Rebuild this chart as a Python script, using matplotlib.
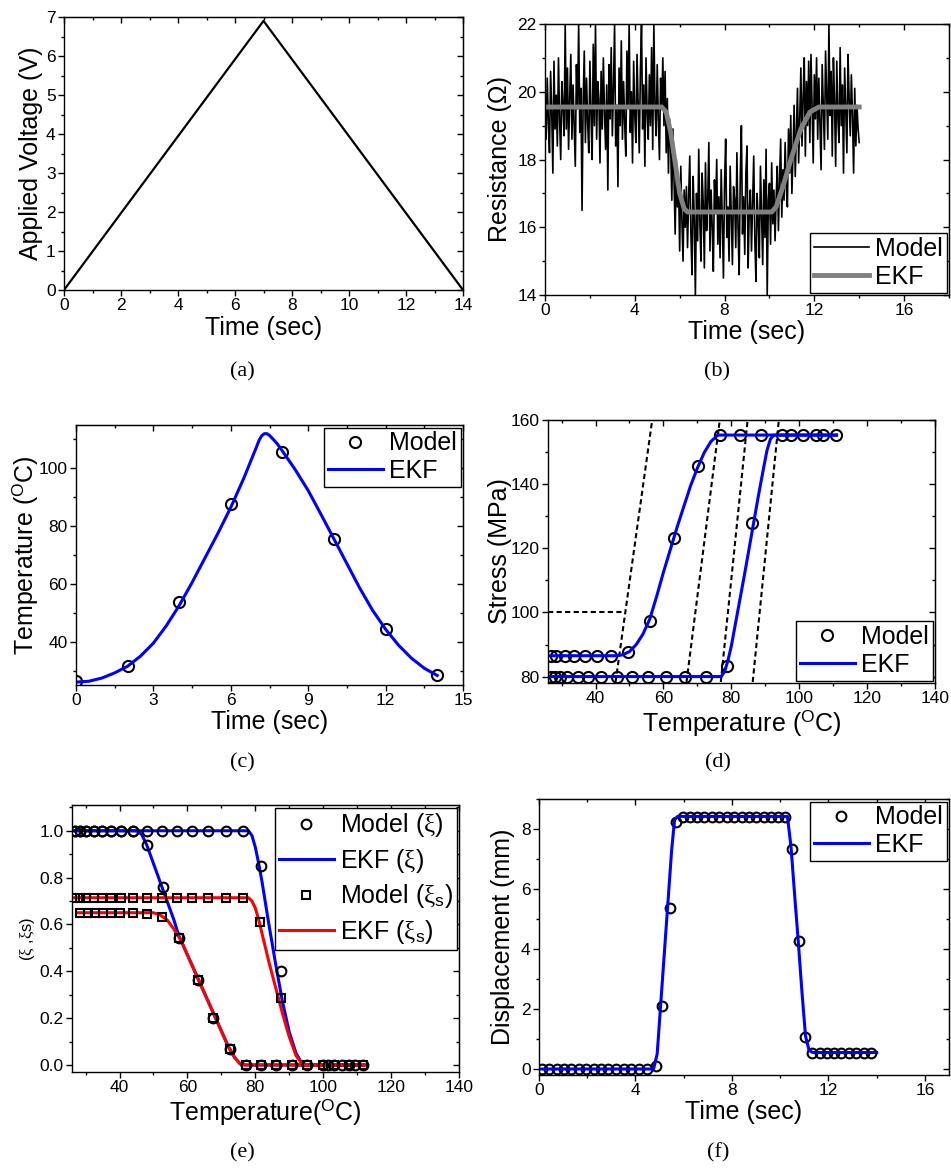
import numpy as np
import matplotlib
matplotlib.use('Agg')
import matplotlib.pyplot as plt
from matplotlib.ticker import MultipleLocator, FormatStrFormatter

plt.rcParams['font.family'] = ['Liberation Sans', 'DejaVu Sans']
plt.rcParams['mathtext.fontset'] = 'custom'
plt.rcParams['mathtext.rm'] = 'Liberation Serif'
plt.rcParams['mathtext.sf'] = 'Liberation Sans'
plt.rcParams['mathtext.it'] = 'Liberation Serif:italic'

# (a) applied voltage
volt_t = [0, 7, 14]
volt_v = [0, 6.9, 0]

# (b) resistance, noisy model + EKF estimate
res_model = [
    19.8, 18.6, 20.4, 19.1, 18.2, 20.6, 19.4, 17.6, 20.9, 18.9,
    19.9, 18.4, 21.0, 19.2, 18.0, 20.3, 19.6, 18.7, 22.0, 18.9,
    20.7, 18.3, 19.8, 21.1, 18.6, 20.2, 19.0, 17.8, 20.8, 19.5,
    22.0, 18.8, 20.1, 16.5, 19.7, 21.2, 18.5, 20.4, 19.1, 18.2,
    20.9, 19.3, 18.0, 21.4, 19.0, 22.0, 18.6, 20.3, 19.8, 17.9,
    20.6, 18.9, 21.0, 19.4, 18.3, 20.2, 17.1, 20.8, 19.2, 21.3,
    18.7, 20.1, 22.0, 18.4, 19.6, 17.2, 20.7, 19.0, 21.5, 18.6,
    20.3, 19.1, 18.1, 21.2, 19.5, 22.0, 18.8, 20.0, 17.9, 20.9,
    19.3, 18.5, 21.1, 19.7, 18.2, 20.6, 22.0, 18.9, 20.2, 17.8,
    21.0, 19.4, 18.6, 20.5, 19.0, 21.3, 18.3, 22.0, 19.6, 18.7,
    20.8, 19.2, 18.0, 20.4, 19.5, 21.0,
    19.0, 20.6, 18.2, 19.8, 17.6, 19.2, 18.4, 16.8, 18.9, 17.3,
    15.8, 18.0, 16.6, 17.4, 15.3, 17.8, 16.2, 15.0, 17.1, 16.0,
    17.2, 15.4, 16.9, 18.1, 15.8, 14.6, 17.5, 16.3, 14.0, 17.0,
    15.6, 18.3, 16.1, 15.0, 17.6, 16.7, 14.8, 17.9, 15.9, 16.8,
    18.5, 15.3, 17.1, 16.0, 14.7, 17.4, 16.4, 18.0, 15.5, 16.9,
    15.1, 17.7, 16.2, 14.5, 17.3, 18.6, 15.7, 16.6, 15.0, 17.8,
    16.3, 14.9, 17.2, 16.8, 15.4, 18.2, 16.0, 14.6, 17.5, 19.0,
    15.8, 16.9, 15.2, 17.6, 18.4, 14.8, 16.5, 17.1, 15.3, 16.7,
    18.1, 15.6, 14.4, 17.0, 16.2, 15.1, 17.8, 16.4, 14.9, 17.4,
    15.7, 18.3, 14.0, 16.8, 17.3, 15.5, 17.9, 16.1,
    17.1, 15.6, 16.9, 17.8, 15.9, 17.4, 18.6, 16.3, 17.7, 16.8,
    18.5, 17.2, 16.6, 18.9, 17.6, 19.3, 17.0, 18.2, 19.6, 17.5,
    18.8, 20.1, 17.9, 19.2, 20.7, 18.4, 19.8, 21.0, 18.1, 20.3,
    19.0, 20.9, 18.5, 21.1, 19.6, 17.9, 20.5, 19.2, 21.0, 18.6,
    20.4, 19.1, 17.7, 20.8, 19.5, 18.3, 21.2, 19.9, 18.6, 22.0,
    19.3, 20.6, 18.1, 21.0, 19.7, 17.8, 20.9, 19.2, 18.5, 21.3,
    19.0, 20.2, 17.6, 20.7, 19.4, 18.2, 21.1, 19.8, 18.7, 20.5,
    19.3, 17.6, 20.1, 18.4, 19.6, 18.9, 18.5,
]
res_t = np.linspace(0, 14, len(res_model))
res_ekf_t = [0, 5.2, 5.4, 5.6, 5.8, 6.0, 6.2, 6.35, 10.1, 10.3, 10.6, 11.0, 11.4, 11.8, 12.2, 14]
res_ekf_r = [19.55, 19.55, 19.4, 18.8, 17.9, 17.0, 16.55, 16.45, 16.45, 16.6, 17.2, 18.1, 18.9, 19.4, 19.55, 19.55]

# (c) temperature
temp_model_t = [0, 2, 4, 6, 8, 10, 12, 14]
temp_model_T = [26.3, 31.6, 53.8, 87.6, 105.5, 75.5, 44.3, 28.4]
temp_ekf_t = [0, 0.5, 1, 1.5, 2, 2.5, 3, 3.5, 4, 4.5, 5, 5.5, 6, 6.5, 7, 7.1, 7.2, 7.3, 7.4,
              7.5, 7.65, 7.8, 8, 8.5, 9, 9.5, 10, 10.5, 11, 11.5, 12, 12.5, 13, 13.5, 14]
temp_ekf_T = [26.0, 26.3, 27.4, 29.2, 31.5, 35.0, 39.5, 45.5, 52.5, 60.5, 69.0, 77.5, 86.5, 96.5,
              107.5, 109.8, 111.3, 112.0, 112.0, 111.4, 110.0, 108.5, 106.0, 99.5, 92.3, 84.0,
              75.5, 67.0, 58.5, 50.8, 44.3, 38.8, 34.3, 30.8, 28.3]

# (d) stress vs temperature
str_model1_T = [26.8, 28.5, 31.0, 33.7, 36.9, 40.3, 44.5, 49.6, 56.0, 63.1, 70.3, 76.6,
                82.5, 88.7, 94.8, 97.6, 101.2, 104.8, 107.1, 110.8]
str_model1_S = [86.5, 86.5, 86.5, 86.5, 86.5, 86.5, 86.5, 87.8, 97.3, 123.2, 145.7, 155.3,
                155.3, 155.3, 155.3, 155.3, 155.3, 155.3, 155.3, 155.3]
str_model2_T = [26.8, 28.0, 29.4, 31.7, 34.7, 37.8, 41.6, 46.2, 50.8, 55.5, 60.9, 66.5, 72.4, 78.6, 86.0]
str_model2_S = [80, 80, 80, 80, 80, 80, 80, 80, 80, 80, 80, 80, 80, 83.3, 128.0]
str_ekf1_T = [26, 46, 48, 50, 52, 54, 56, 58, 60, 62, 64, 66, 68, 70, 72, 74, 76, 111]
str_ekf1_S = [86.5, 86.5, 86.8, 87.8, 90.0, 93.3, 98.0, 105.0, 112.5, 119.5, 126.5, 133.0,
              139.5, 145.0, 149.8, 153.3, 155.3, 155.3]
str_ekf2_T = [26, 77, 78, 79, 80, 82, 84, 86, 88, 89.5, 90.5, 91.5, 92.5, 111]
str_ekf2_S = [80, 80, 81.5, 85.0, 89.5, 101.0, 112.5, 124.5, 136.5, 145.0, 150.5, 154.0, 155.3, 155.3]
# phase diagram boundaries (dashed)
bound_T0 = [45.9, 66.8, 76.9, 86.3]
bound_T1 = [56.7, 76.6, 84.8, 94.0]
bound_S = [78.3, 160]
crit_T = [26, 48.5]
crit_S = [100, 100]

# (e) martensite fractions
xi_model1_T = [27.0, 28.4, 30.2, 32.4, 34.8, 37.5, 40.4, 44.1, 48.0, 52.7, 57.5, 63.0, 67.6, 72.4,
               77.2, 81.6, 86.1, 90.8]
xi_model1_v = [1, 1, 1, 1, 1, 1, 1, 1, 0.94, 0.76, 0.543, 0.364, 0.2, 0.069, 0, 0, 0, 0]
xi_model2_T = [27.0, 28.4, 30.2, 32.4, 34.8, 37.5, 40.4, 44.1, 48.0, 52.5, 56.9, 61.3, 66.2, 71.3,
               76.5, 81.7, 87.7, 95.1, 99.8, 101.5, 103.1, 105.5, 107.6, 109.5, 111.8]
xi_model2_v = [1, 1, 1, 1, 1, 1, 1, 1, 1, 1, 1, 1, 1, 1, 1, 0.85, 0.40, 0, 0, 0, 0, 0, 0, 0, 0]
xis_model1_T = [28.4, 30.6, 32.9, 35.1, 37.5, 40.2, 43.9, 48.0, 52.6, 57.5, 63.0, 67.6, 72.4,
                77.2, 81.6, 86.1, 90.8]
xis_model1_v = [0.65, 0.65, 0.65, 0.65, 0.65, 0.65, 0.65, 0.643, 0.63, 0.543, 0.364, 0.2, 0.069,
                0, 0, 0, 0]
xis_model2_T = [27.0, 28.4, 30.2, 32.4, 34.8, 37.5, 40.4, 44.1, 48.0, 52.5, 56.9, 61.3, 66.2, 71.3,
                76.5, 81.4, 87.7, 95.1, 99.8, 103.1, 107.6, 111.8]
xis_model2_v = [0.714] * 15 + [0.61, 0.286, 0, 0, 0, 0, 0]
xi_ekf1_T = [26, 45, 46.5, 48, 50, 52, 54, 56, 57.5, 58, 60, 62, 64, 66, 68, 70, 72, 74, 75.5, 77, 112]
xi_ekf1_v = [1, 1, 0.985, 0.94, 0.86, 0.78, 0.70, 0.62, 0.55, 0.535, 0.47, 0.405, 0.34, 0.275,
             0.21, 0.145, 0.08, 0.03, 0.005, 0, 0]
xi_ekf2_T = [26, 78, 79, 80, 81, 82, 84, 86, 88, 90, 92, 94, 112]
xi_ekf2_v = [1, 1, 0.98, 0.93, 0.86, 0.78, 0.60, 0.43, 0.27, 0.14, 0.05, 0, 0]
xis_ekf1_T = [27.6, 50, 52, 54, 56, 58, 60, 62, 64, 66, 68, 70, 72, 74, 75.5, 77, 112]
xis_ekf1_v = [0.65, 0.65, 0.64, 0.62, 0.58, 0.535, 0.47, 0.405, 0.34, 0.275, 0.21, 0.145, 0.08,
              0.03, 0.005, 0, 0]
xis_ekf2_T = [26, 78, 79, 80, 81, 82, 84, 86, 88, 90, 92, 94, 112]
xis_ekf2_v = [0.714, 0.714, 0.70, 0.67, 0.62, 0.56, 0.44, 0.33, 0.22, 0.12, 0.04, 0, 0]

# (f) displacement
disp_model_t = [0.11, 0.41, 0.73, 1.04, 1.34, 1.64, 1.96, 2.27, 2.58, 2.88, 3.19, 3.51, 3.81,
                4.15, 4.49, 4.84, 5.08, 5.42, 5.66, 5.97, 6.25, 6.55, 6.85, 7.16, 7.47, 7.78,
                8.08, 8.40, 8.71, 9.01, 9.32, 9.63, 9.90, 10.22, 10.48, 10.79, 11.04, 11.34,
                11.64, 11.93, 12.23, 12.53, 12.85, 13.15, 13.47, 13.77]
disp_model_d = [0] * 15 + [0.11, 2.1, 5.36, 8.24] + [8.41] * 15 + [7.34, 4.28, 1.07] + [0.55] * 9
disp_ekf_t = [0, 4.75, 4.9, 5.05, 5.2, 5.35, 5.5, 5.62, 5.75, 10.3, 10.45, 10.6, 10.75, 10.9,
              11.05, 11.2, 11.35, 14.0]
disp_ekf_d = [0, 0, 0.5, 2.2, 3.9, 5.6, 7.3, 8.3, 8.42, 8.42, 7.4, 5.8, 4.25, 2.6, 1.1, 0.62,
              0.55, 0.55]

W, H = 951, 1170
fig = plt.figure(figsize=(W / 100, H / 100), dpi=100)


def box(l, r, t, b):
    return fig.add_axes([l / W, 1 - b / H, (r - l) / W, (b - t) / H])


def frame(ax, xmaj, xmin, ymaj, ymin):
    ax.xaxis.set_major_locator(MultipleLocator(xmaj))
    ax.xaxis.set_minor_locator(MultipleLocator(xmin))
    ax.yaxis.set_major_locator(MultipleLocator(ymaj))
    ax.yaxis.set_minor_locator(MultipleLocator(ymin))
    ax.tick_params(which='both', direction='out', labelsize=12.5, width=1, pad=2)
    ax.tick_params(which='major', length=4)
    ax.tick_params(which='minor', length=2.5)
    for s in ax.spines.values():
        s.set_linewidth(1)
    top = ax.secondary_xaxis('top')
    top.xaxis.set_major_locator(MultipleLocator(xmaj))
    top.xaxis.set_minor_locator(MultipleLocator(xmin))
    top.tick_params(which='both', direction='in', labeltop=False, width=1)
    top.tick_params(which='major', length=4)
    top.tick_params(which='minor', length=2.5)
    right = ax.secondary_yaxis('right')
    right.yaxis.set_major_locator(MultipleLocator(ymaj))
    right.yaxis.set_minor_locator(MultipleLocator(ymin))
    right.tick_params(which='both', direction='in', labelright=False, width=1)
    right.tick_params(which='major', length=4)
    right.tick_params(which='minor', length=2.5)


leg_kw = dict(fontsize=18, frameon=True, fancybox=False, edgecolor='black', framealpha=1,
              handlelength=2.2, handletextpad=0.25, borderpad=0.15, labelspacing=0.15,
              borderaxespad=0.1)
circ = dict(ls='none', marker='o', mfc='none', mec='black', mew=1.5)
lab_kw = dict(fontsize=18)
deg = r'$^{\mathsf{O}}$'

# (a)
ax = box(64, 463, 17, 290)
ax.plot(volt_t, volt_v, color='black', lw=1.6)
ax.set_xlim(0, 14)
ax.set_ylim(0, 7)
frame(ax, 2, 1, 1, 0.5)
ax.set_xlabel('Time (sec)', labelpad=2, **lab_kw)
ax.set_ylabel('Applied Voltage (V)', labelpad=2, **lab_kw)

# (b)
ax = box(545, 949, 24, 295)
ax.plot(res_t, res_model, color='black', lw=1.2, label='Model')
ax.plot(res_ekf_t, res_ekf_r, color='#808080', lw=3.5, label='EKF')
ax.set_xlim(0, 18)
ax.set_ylim(14, 22)
frame(ax, 4, 2, 2, 1)
ax.set_xlabel('Time (sec)', labelpad=1, **lab_kw)
ax.set_ylabel('Resistance (\u03a9)', labelpad=4, **lab_kw)
ax.legend(loc='lower right', **leg_kw)

# (c)
ax = box(76, 463, 425, 685)
ax.plot(temp_model_t, temp_model_T, ms=8, label='Model', **circ)
ax.plot(temp_ekf_t, temp_ekf_T, color='#0000ff', lw=2.2, label='EKF')
ax.set_xlim(0, 15)
ax.set_ylim(25, 115)
frame(ax, 3, 1.5, 20, 10)
ax.set_xlabel('Time (sec)', labelpad=1, **lab_kw)
ax.set_ylabel('Temperature (' + deg + 'C)', labelpad=-1, **lab_kw)
ax.legend(loc='upper right', **leg_kw)

# (d)
ax = box(548, 935, 420, 683)
for t0, t1 in zip(bound_T0, bound_T1):
    ax.plot([t0, t1], bound_S, color='black', lw=1.5, ls=(0, (2.5, 1.6)))
ax.plot(crit_T, crit_S, color='black', lw=1.5, ls=(0, (2.5, 1.6)))
ax.plot(str_model1_T, str_model1_S, ms=8, label='Model', **circ)
ax.plot(str_model2_T, str_model2_S, ms=8, **circ)
ax.plot(str_ekf1_T, str_ekf1_S, color='#0000ff', lw=2.2, label='EKF')
ax.plot(str_ekf2_T, str_ekf2_S, color='#0000ff', lw=2.2)
ax.set_xlim(26, 140)
ax.set_ylim(78, 160)
frame(ax, 20, 10, 20, 10)
ax.set_xlabel('Temperature (' + deg + 'C)', labelpad=1, **lab_kw)
ax.set_ylabel('Stress (MPa)', labelpad=-1, **lab_kw)
ax.legend(loc='lower right', **leg_kw)

# (e)
ax = box(72, 459, 805, 1072)
sq = dict(ls='none', marker='s', mfc='none', mec='black', mew=1.5, ms=6)
ax.plot(xi_ekf1_T, xi_ekf1_v, color='#0000ff', lw=2.2)
ax.plot(xi_ekf2_T, xi_ekf2_v, color='#0000ff', lw=2.2)
ax.plot(xis_ekf1_T, xis_ekf1_v, color='#ff0000', lw=2.2)
ax.plot(xis_ekf2_T, xis_ekf2_v, color='#ff0000', lw=2.2)
ax.plot(xi_model1_T, xi_model1_v, ms=7, **circ)
ax.plot(xi_model2_T, xi_model2_v, ms=7, **circ)
ax.plot(xis_model1_T, xis_model1_v, **sq)
ax.plot(xis_model2_T, xis_model2_v, **sq)
ax.set_xlim(26, 140)
ax.set_ylim(-0.03, 1.11)
frame(ax, 20, 10, 0.2, 0.1)
ax.yaxis.set_major_formatter(FormatStrFormatter('%.1f'))
ax.set_xlabel('Temperature(' + deg + 'C)', labelpad=1, **lab_kw)
ax.set_ylabel(r'($\mathrm{\xi}$ ,$\mathrm{\xi}$s)', fontsize=12, labelpad=2)
h = [plt.Line2D([], [], ms=7, **circ),
     plt.Line2D([], [], color='#0000ff', lw=2.2),
     plt.Line2D([], [], **sq),
     plt.Line2D([], [], color='#ff0000', lw=2.2)]
labels = [r'Model ($\mathrm{\xi}$)', r'EKF ($\mathrm{\xi}$)',
          r'Model ($\mathrm{\xi}_\mathsf{s}$)', r'EKF ($\mathrm{\xi}_\mathsf{s}$)']
kw = dict(leg_kw)
kw['labelspacing'] = 0.3
ax.legend(h, labels, loc='upper right', **kw)

# (f)
ax = box(539, 949, 799, 1075)
ax.plot(disp_model_t, disp_model_d, ms=7, label='Model', **circ)
ax.plot(disp_ekf_t, disp_ekf_d, color='#0000ff', lw=2.2, label='EKF')
ax.set_xlim(0, 17)
ax.set_ylim(-0.2, 9)
frame(ax, 4, 2, 2, 1)
ax.set_xlabel('Time (sec)', labelpad=1, **lab_kw)
ax.set_ylabel('Displacement (mm)', labelpad=4, **lab_kw)
ax.legend(loc='upper right', **leg_kw)

# panel captions
for x, y, s in [(242, 372, '(a)'), (717, 372, '(b)'), (242, 763, '(c)'),
                (718, 763, '(d)'), (242, 1153, '(e)'), (718, 1153, '(f)')]:
    fig.text(x / W, 1 - y / H, s, ha='center', va='center', fontsize=16,
             family='Liberation Serif')

fig.savefig('out.png', dpi=100)
